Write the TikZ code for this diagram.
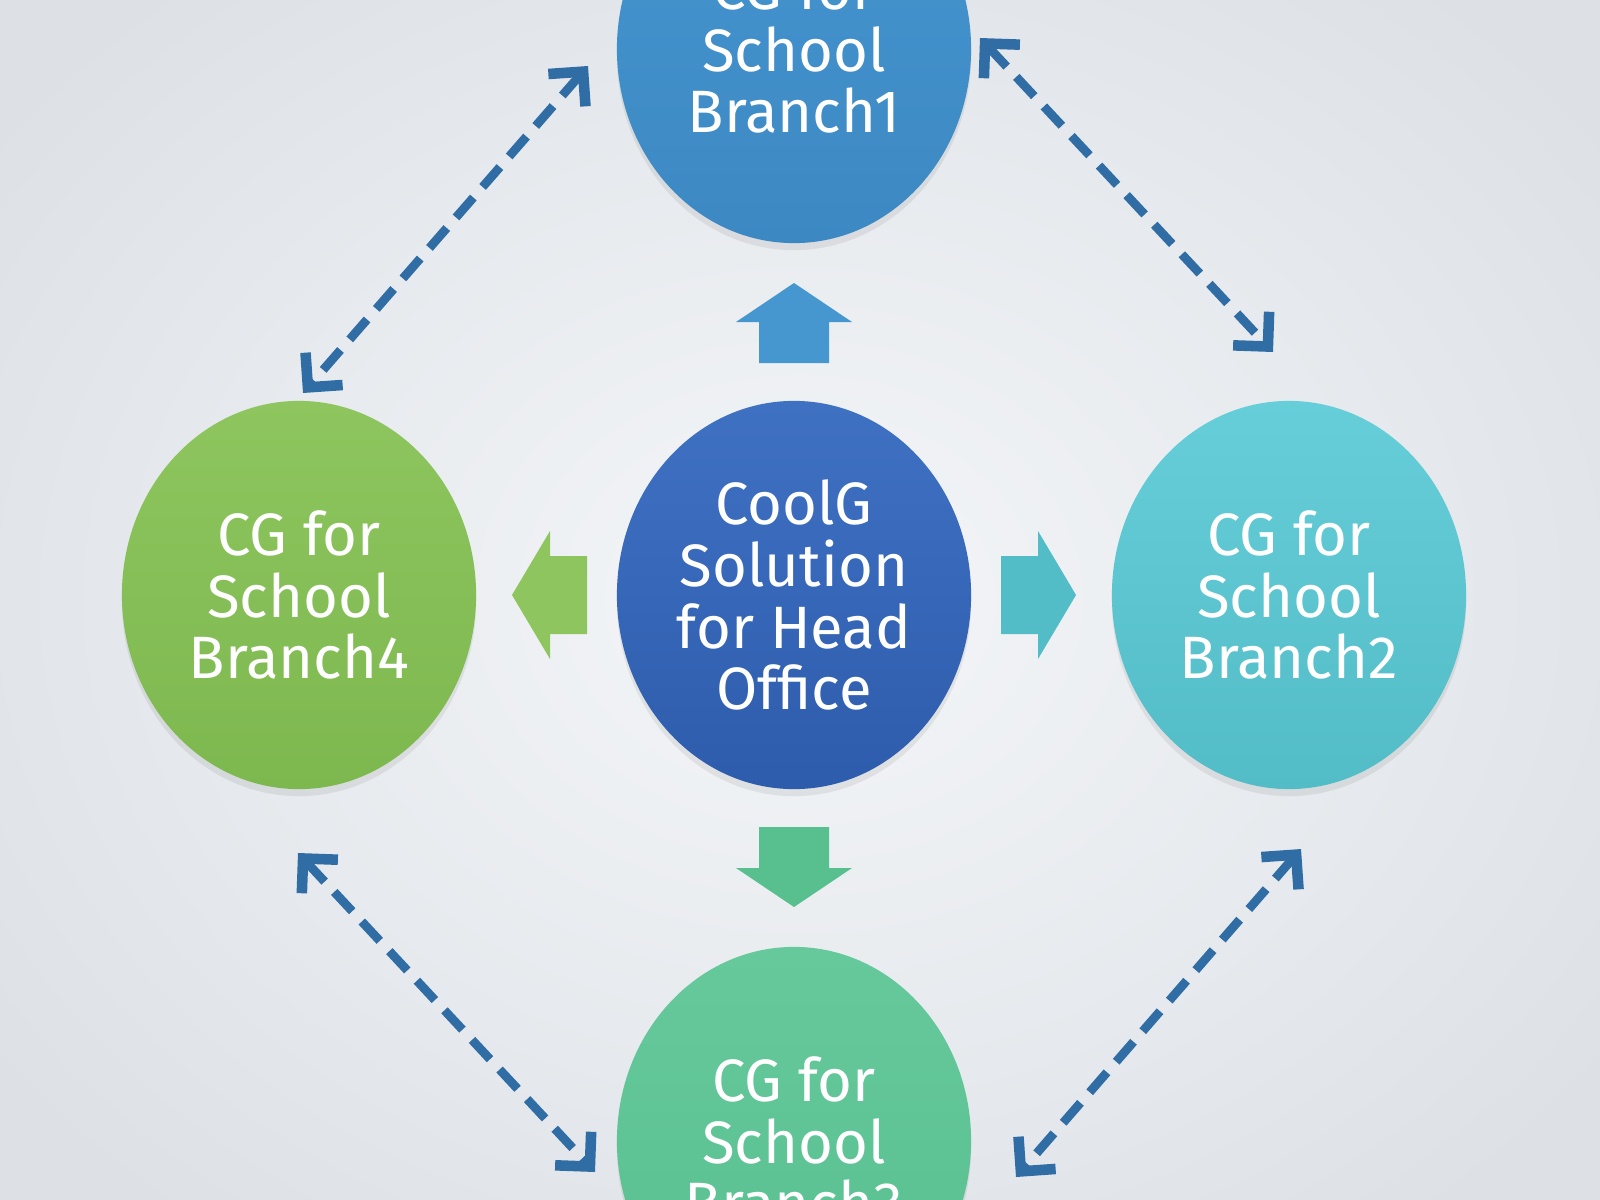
\documentclass[tikz,border=0pt]{standalone}
\usepackage{fontspec}
\newfontfamily\branchfont{Fira Sans}
\usetikzlibrary{shapes.geometric,arrows.meta,shadows}

\definecolor{bgin}{HTML}{F4F6F8}
\definecolor{bgout}{HTML}{DDE1E6}
\definecolor{headtop}{HTML}{3F71C2}
\definecolor{headbot}{HTML}{2E5CAD}
\definecolor{onetop}{HTML}{4696D0}
\definecolor{onebot}{HTML}{3C88C3}
\definecolor{twotop}{HTML}{66CED8}
\definecolor{twobot}{HTML}{52BCC7}
\definecolor{threetop}{HTML}{66C99C}
\definecolor{threebot}{HTML}{58BF8F}
\definecolor{fourtop}{HTML}{8EC55E}
\definecolor{fourbot}{HTML}{7DB84F}
\definecolor{linkblue}{HTML}{2F6DA4}

\tikzset{
    branch/.style={ellipse, minimum width=3.54cm, minimum height=3.88cm, inner sep=0pt,
        align=center, text=white, font=\branchfont\fontsize{17}{17.6}\selectfont,
        drop shadow={opacity=0.15, shadow xshift=0pt, shadow yshift=-2pt}},
    barb/.tip={Straight Barb[length=7pt, width=14pt, line width=3pt]},
    link/.style={draw=linkblue, line width=2.5pt, dash pattern=on 7.5pt off 4pt, barb-barb}
}

\begin{document}
\begin{tikzpicture}[x=0.01cm, y=-0.01cm]
    \useasboundingbox (0,0) rectangle (1600,1200);
    \clip (0,0) rectangle (1600,1200);
    \shade [inner color=bgin, outer color=bgout] (-200,-200) rectangle (1800,1400);

    % circles
    \node [branch, top color=headtop, bottom color=headbot] (head) at (794,595) {CoolG\\Solution\\for Head\\Office};
    \node [branch, top color=onetop, bottom color=onebot] (one) at (794,49) {CG for\\School\\Branch1};
    \node [branch, top color=twotop, bottom color=twobot] (two) at (1289,595) {CG for\\School\\Branch2};
    \node [branch, top color=threetop, bottom color=threebot] (three) at (794,1141) {CG for\\School\\Branch3};
    \node [branch, top color=fourtop, bottom color=fourbot] (four) at (299,595) {CG for\\School\\Branch4};

    % block arrows out of the head office
    \fill [onetop] (794,283) -- ++(58,39) -- ++(-23,0) -- ++(0,41) -- ++(-70,0) -- ++(0,-41) -- ++(-23,0) -- cycle;
    \fill [threebot] (794,907) -- ++(58,-39) -- ++(-23,0) -- ++(0,-41) -- ++(-70,0) -- ++(0,41) -- ++(-23,0) -- cycle;
    \fill [fourtop] (512,595) -- ++(38,-64) -- ++(0,25) -- ++(37,0) -- ++(0,78) -- ++(-37,0) -- ++(0,25) -- cycle;
    \fill [twobot] (1076,595) -- ++(-38,-64) -- ++(0,25) -- ++(-37,0) -- ++(0,78) -- ++(37,0) -- ++(0,25) -- cycle;

    % ends of the dashed links
    \coordinate (onew) at (588,66);
    \coordinate (fourn) at (303,393);
    \coordinate (onee) at (980,38);
    \coordinate (twon) at (1273,352);
    \coordinate (fours) at (298,853);
    \coordinate (threew) at (595,1172);
    \coordinate (twos) at (1301,849);
    \coordinate (threee) at (1016,1177);

    \draw [link] (onew) -- (fourn);
    \draw [link] (onee) -- (twon);
    \draw [link] (fours) -- (threew);
    \draw [link] (twos) -- (threee);
\end{tikzpicture}
\end{document}
